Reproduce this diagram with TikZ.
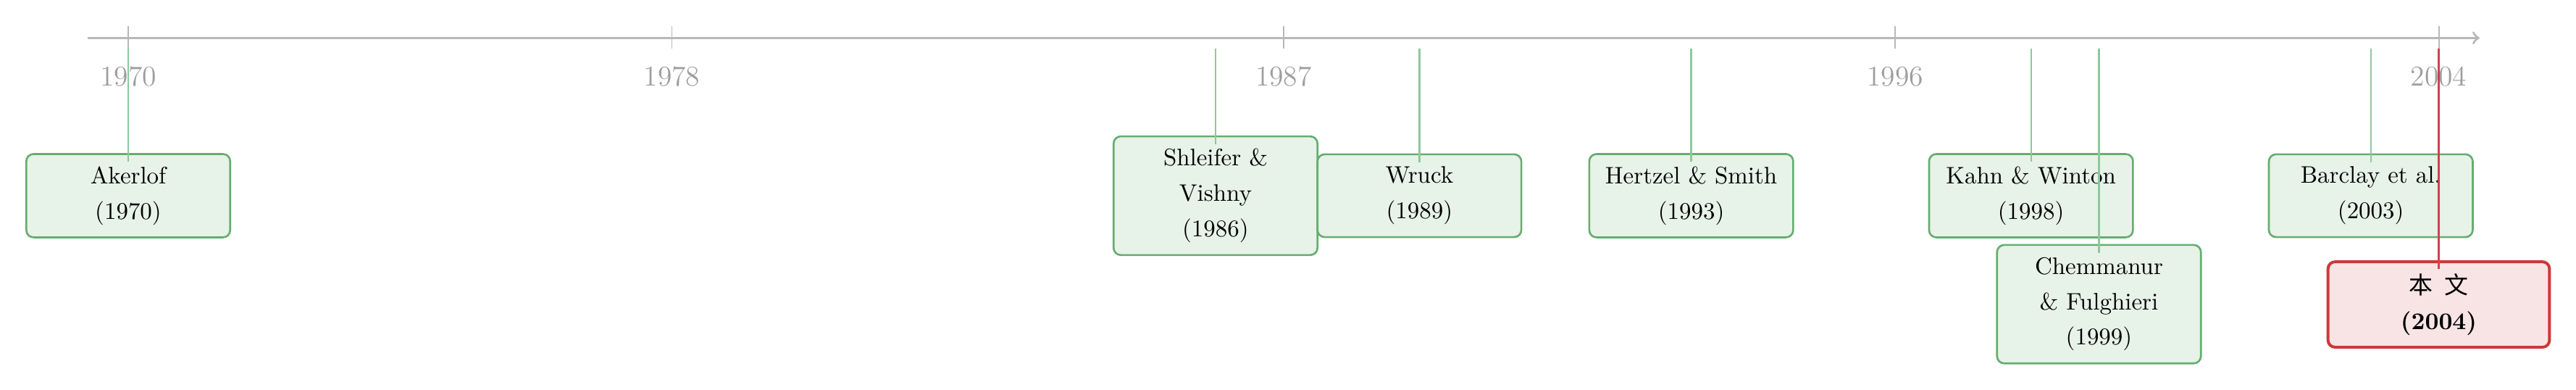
\documentclass[tikz,border=0pt]{standalone}
\usepackage{fontspec}
\newfontfamily\cjk{Noto Sans CJK SC}
\usetikzlibrary{calc}
\definecolor{axisgray}{HTML}{B8B8B8}
\definecolor{labelgray}{HTML}{9E9E9E}
\definecolor{boxgreen}{HTML}{66AD6F}
\definecolor{fillgreen}{HTML}{E7F2E8}
\definecolor{linegreen}{HTML}{8EC89B}
\definecolor{boxred}{HTML}{CD3838}
\definecolor{fillred}{HTML}{F8E4E5}
\definecolor{linered}{HTML}{D0434B}
\begin{document}
\begin{tikzpicture}[
  paper/.style={draw=boxgreen, fill=fillgreen, line width=0.8pt, rounded corners=3pt,
    align=center, text width=3cm-8pt, inner xsep=4pt, inner ysep=5.2pt,
    font=\fontsize{10}{14.8}\selectfont},
  ours/.style={paper, draw=boxred, fill=fillred, line width=1.2pt, text width=3.26cm-8pt, inner ysep=5pt},
  conn/.style={draw=linegreen, line width=0.7pt},
  connred/.style={draw=linered, line width=0.7pt},
  tickmark/.style={draw=axisgray, line width=0.6pt},
  yearlabel/.style={text=labelgray, font=\large, inner sep=0pt},
]
\useasboundingbox (-1.887,0.558) rectangle (36.02,-5.167);
% axis
\coordinate (axstart) at (-0.6,0);
\coordinate (axend) at (34.6,0);
\draw[axisgray, line width=1pt, ->] (axstart) -- (axend);
\foreach \yr in {1970,1978,1987,1996,2004}{
  \pgfmathsetmacro{\xx}{\yr-1970}
  \coordinate (tt\yr) at (\xx,0.17);
  \coordinate (tb\yr) at (\xx,-0.16);
  \draw[tickmark] (tt\yr) -- (tb\yr);
  \node[yearlabel] (lab\yr) at (\xx,-0.567) {\yr};
}
% nodes
\node[paper] (akerlof) at (0,-2.32) {Akerlof\\(1970)};
\node[paper] (shleifer) at (16,-2.32) {Shleifer \&\\Vishny\\(1986)};
\node[paper] (wruck) at (19,-2.32) {Wruck\\(1989)};
\node[paper] (hertzel) at (23,-2.32) {Hertzel \& Smith\\(1993)};
\node[paper] (kahn) at (28,-2.32) {Kahn \& Winton\\(1998)};
\node[paper] (chem) at (29,-3.915) {Chemmanur\\\& Fulghieri\\(1999)};
\node[paper] (barclay) at (33,-2.32) {Barclay et al.\\(2003)};
\node[ours] (ours) at (34,-3.92) {{\cjk 本\hspace{0.5em}文}\\\textbf{(2004)}};
% connector start points
\coordinate (c1970) at (0,-0.16);
\coordinate (c1986) at (16,-0.16);
\coordinate (c1989) at (19,-0.16);
\coordinate (c1993) at (23,-0.16);
\coordinate (c1998) at (28,-0.16);
\coordinate (c1999) at (29,-0.16);
\coordinate (c2003) at (33,-0.16);
\coordinate (c2004) at (34,-0.16);
% connectors
\draw[conn] (c1970) -- ([yshift=-0.13cm]akerlof.north);
\draw[conn] (c1986) -- ([yshift=-0.13cm]shleifer.north);
\draw[conn] (c1989) -- ([yshift=-0.13cm]wruck.north);
\draw[conn] (c1993) -- ([yshift=-0.13cm]hertzel.north);
\draw[conn] (c1998) -- ([yshift=-0.13cm]kahn.north);
\draw[conn] (c1999) -- ([yshift=-0.13cm]chem.north);
\draw[conn] (c2003) -- ([yshift=-0.13cm]barclay.north);
\draw[connred] (c2004) -- ([yshift=-0.13cm]ours.north);
\end{tikzpicture}
\end{document}
